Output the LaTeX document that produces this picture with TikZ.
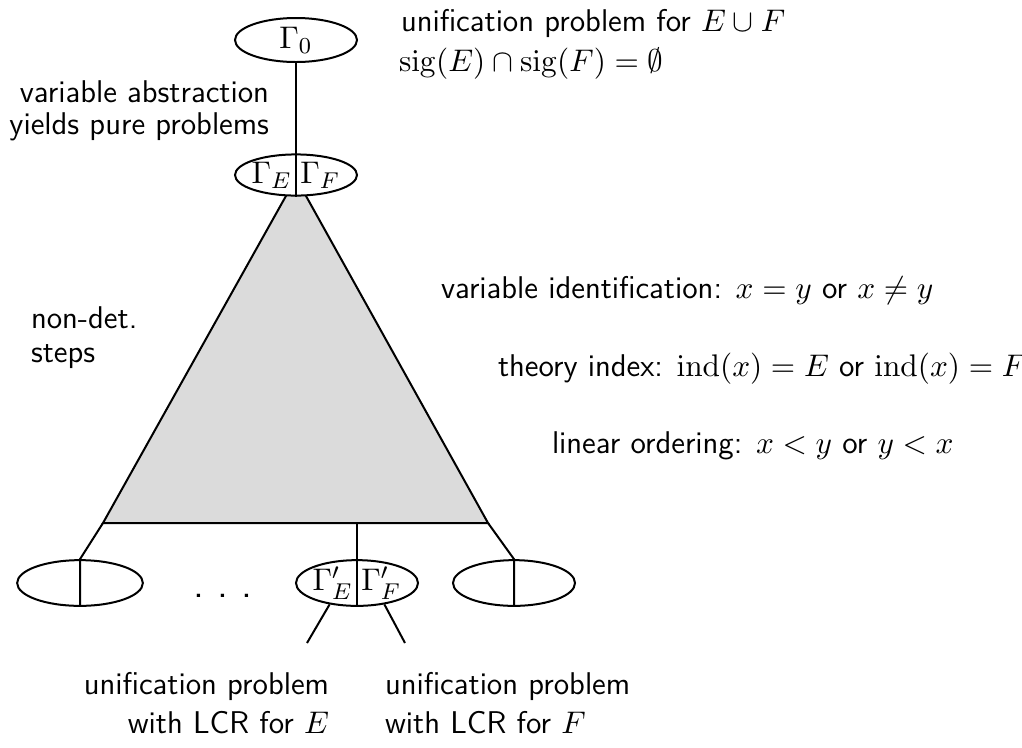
\documentclass[tikz,border=0pt]{standalone}
\usetikzlibrary{shapes.geometric}
\begin{document}
\begin{tikzpicture}[x=0.35pt, y=-0.35pt, line width=0.7pt,
    every node/.style={font=\sffamily\fontsize{11}{13.5}\selectfont},
    prob/.style={draw, ellipse, fill=white, minimum width=42.7pt, minimum height=15.4pt, inner sep=0pt},
    half/.style={inner sep=1.2pt}]
  \useasboundingbox (0,0) rectangle (1022,747);

  % non-deterministic steps as a shaded triangle
  \coordinate (apex) at (296,178);
  \coordinate (bl) at (103,523);
  \coordinate (br) at (488,523);
  \coordinate (bm) at (357,523);
  \filldraw[fill=black!14] (apex) -- (bl) -- (br) -- cycle;

  % start problem and its pure parts
  \node[prob] (g0) at (296,40) {$\Gamma_0$};
  \node[prob, minimum height=14.4pt] (ef) at (296,175) {};
  \node[half, anchor=east] (ge) at (ef.center) {$\Gamma_E$};
  \node[half, anchor=west] (gf) at (ef.center) {$\Gamma_F$};
  \draw (g0.south) -- (ef.south);

  % leaves of the search tree
  \node[prob, minimum width=44pt, minimum height=16pt] (lt) at (80,583) {};
  \node[prob, minimum height=16pt] (md) at (357,583) {};
  \node[prob, minimum height=16pt] (rt) at (514,583) {};
  \node[half, anchor=east] (ge2) at (md.center) {$\Gamma'_E$};
  \node[half, anchor=west] (gf2) at (md.center) {$\Gamma'_F$};
  \node[anchor=base, font=\sffamily\fontsize{14}{14}\selectfont] (dots) at (223,597) {.\hspace{4.7pt}.\hspace{4.7pt}.};
  \draw (bl) -- (lt.north) -- (lt.south);
  \draw (bm) -- (md.north) -- (md.south);
  \draw (br) -- (rt.north) -- (rt.south);

  % the two pure results
  \coordinate (le) at (307,643);
  \coordinate (re) at (405,643);
  \draw (md.218) -- (le);
  \draw (md.322) -- (re);

  % labels
  \node[anchor=base west, inner sep=0pt] (top1) at (400,31) {unification problem for $E\cup F$};
  \node[anchor=base west, inner sep=0pt] (top2) at (398,71) {$\mathrm{sig}(E)\cap\mathrm{sig}(F)=\emptyset$};
  \node[anchor=base east, inner sep=0pt, align=right] (abstr) at (270,134) {variable abstraction\\[-2.3pt]yields pure problems};
  \node[anchor=base west, inner sep=0pt, align=left] (ndet) at (30,362) {non-det.\\[-1.9pt]steps};
  \node[anchor=base west, inner sep=0pt] (vid) at (440,298) {variable identification: $x=y$ or $x\neq y$};
  \node[anchor=base west, inner sep=0pt] (tix) at (497,376) {theory index: $\mathrm{ind}(x)=E$ or $\mathrm{ind}(x)=F$};
  \node[anchor=base west, inner sep=0pt] (lin) at (551,453) {linear ordering: $x<y$ or $y<x$};
  \node[anchor=base east, inner sep=0pt, align=right] (lcre) at (330,733) {unification problem\\with LCR for $E$};
  \node[anchor=base west, inner sep=0pt, align=left] (lcrf) at (384,733) {unification problem\\with LCR for $F$};
\end{tikzpicture}
\end{document}
